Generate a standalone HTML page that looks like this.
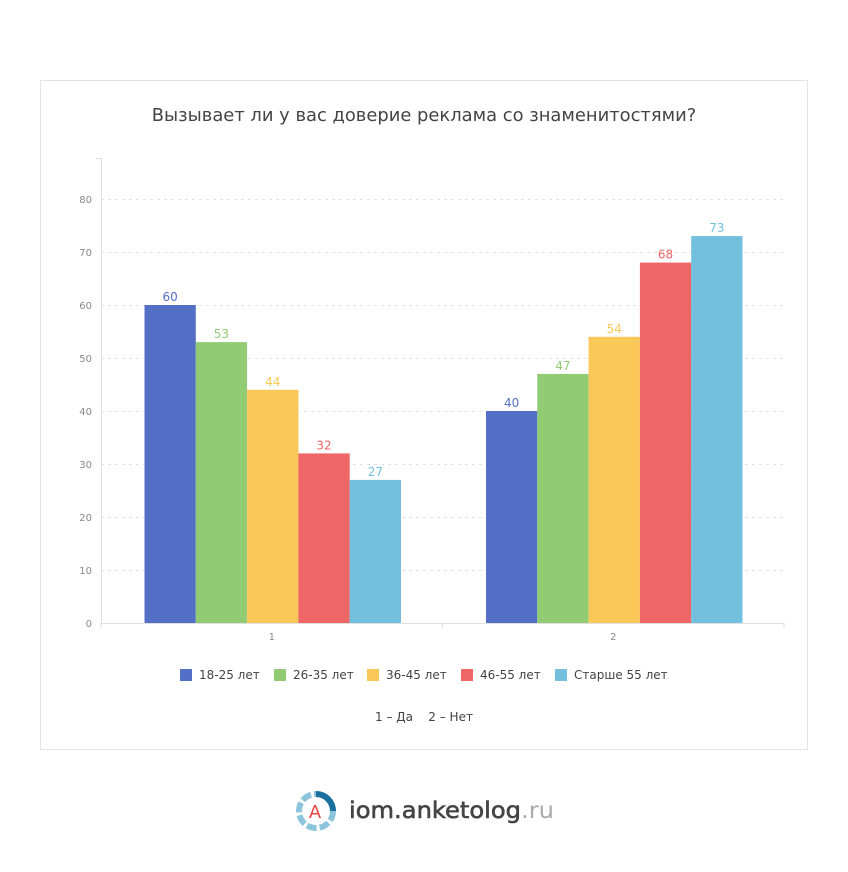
<!DOCTYPE html>
<html><head><meta charset="utf-8"><style>
body{margin:0;width:848px;height:872px;background:#fff;font-family:"DejaVu Sans","Liberation Sans",sans-serif;overflow:hidden}
#card{position:absolute;left:40px;top:80px;width:766px;height:668px;border:1px solid #e3e3e3}
</style></head><body>
<div id="card"></div>
<svg id="chart" width="848" height="872" style="position:absolute;left:0;top:0">
<text x="424" y="121" text-anchor="middle" font-size="17.9" fill="#444">Вызывает ли у вас доверие реклама со знаменитостями?</text>
<g id="grid"></g><g id="bars"></g><g id="legend"></g>
<text x="424" y="721" text-anchor="middle" font-size="12" fill="#444">1 – Да &#160;&#160; 2 – Нет</text>
<g>
<circle cx="316" cy="811" r="17" fill="none" stroke="#8cc4dc" stroke-width="6" stroke-dasharray="10 3"/>
<path d="M316 794 A17 17 0 0 1 333 811" fill="none" stroke="#1a6f9c" stroke-width="6"/>
<circle cx="316" cy="811" r="12" fill="#fff"/>
<text x="315" y="818" text-anchor="middle" font-size="18" fill="#e84545">A</text>
<text x="349" y="818" font-size="23" fill="#444" stroke="#444" stroke-width="0.6" textLength="205" lengthAdjust="spacingAndGlyphs">iom.anketolog<tspan fill="#aaa" stroke="none">.ru</tspan></text>
</g>
</svg>
<script>
const categories=["1","2"];
const seriesNames=["18-25 лет","26-35 лет","36-45 лет","46-55 лет","Старше 55 лет"];
const colors=["#5470c6","#91cc75","#fac858","#ee6666","#73c0de"];
const s1=[60,40],s2=[53,47],s3=[44,54],s4=[32,68],s5=[27,73];
const series=[s1,s2,s3,s4,s5];
const yTicks=[0,10,20,30,40,50,60,70,80];
const NS="http://www.w3.org/2000/svg";
const x0=101,x1=784,y0=623,yMaxPx=199,yMaxVal=80;
const y=v=>y0-(v/yMaxVal)*(y0-yMaxPx);
const cw=(x1-x0)/categories.length,bw=51.3;
function mk(t,a,p){const e=document.createElementNS(NS,t);for(const k in a)e.setAttribute(k,a[k]);p.appendChild(e);return e;}
const g=document.getElementById('grid');
mk('line',{x1:x0+0.5,y1:158,x2:x0+0.5,y2:y0,stroke:'#e0e0e0'},g);
mk('line',{x1:96,y1:158.5,x2:x0,y2:158.5,stroke:'#e0e0e0'},g);
yTicks.forEach(t=>{
 if(t>0){const l=mk('line',{x1:x0,y1:y(t)+0.5,x2:x1,y2:y(t)+0.5,stroke:'#e2e2e2','stroke-dasharray':'3 4'},g);
 
 }
 const tx=mk('text',{x:92,y:y(t)+4,'text-anchor':'end','font-size':10,fill:'#888'},g);tx.textContent=t;
 
 
});
mk('line',{x1:x0,y1:y0+0.5,x2:x1,y2:y0+0.5,stroke:'#e0e0e0'},g);
for(let i=0;i<=categories.length;i++)mk('line',{x1:x0+i*cw,y1:y0,x2:x0+i*cw,y2:y0+5,stroke:'#e0e0e0'},g);
categories.forEach((c,i)=>{const t=mk('text',{x:x0+cw*(i+0.5),y:640,'text-anchor':'middle','font-size':10,fill:'#888'},g);t.textContent=c;
 
 });
const b=document.getElementById('bars');
categories.forEach((c,i)=>{
 const start=x0+cw*(i+0.5)-bw*series.length/2+1;
 series.forEach((s,j)=>{
  const r=mk('rect',{x:start+j*bw,y:y(s[i]),width:bw,height:y0-y(s[i]),fill:colors[j]},b);
  
  
  const t=mk('text',{x:start+j*bw+bw/2,y:y(s[i])-4,'text-anchor':'middle','font-size':12,fill:colors[j]},b);t.textContent=s[i];
  
  
 });
});
const lg=document.getElementById('legend');
const lx=[180,274,367,461,555];
seriesNames.forEach((n,j)=>{
 const e=mk('g',{},lg);
 
 
 mk('rect',{x:lx[j],y:669,width:12,height:12,fill:colors[j]},e);
 const t=mk('text',{x:lx[j]+19,y:679,'font-size':12,fill:'#444'},e);t.textContent=n;
});
</script>
</body></html>
